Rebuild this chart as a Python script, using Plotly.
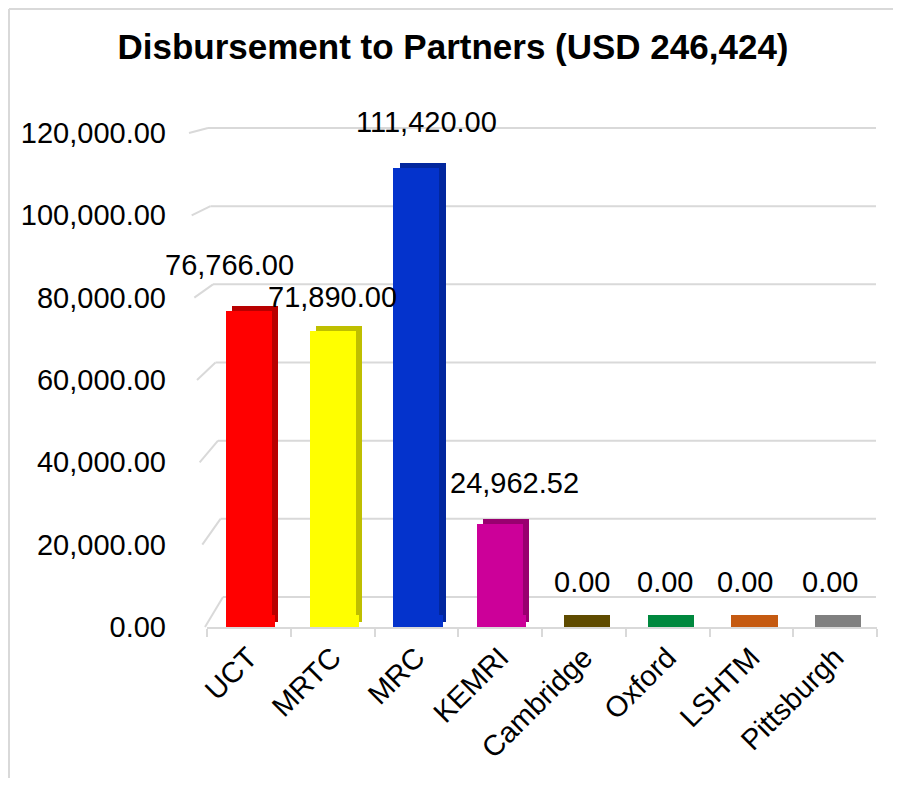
import plotly.graph_objects as go

# ---- data -------------------------------------------------------------
CATEGORIES = ["UCT", "MRTC", "MRC", "KEMRI", "Cambridge", "Oxford", "LSHTM", "Pittsburgh"]
VALUES = [76766.00, 71890.00, 111420.00, 24962.52, 0.00, 0.00, 0.00, 0.00]
Y_TICKS = [0, 20000, 40000, 60000, 80000, 100000, 120000]
TITLE = "Disbursement to Partners (USD 246,424)"

# ---- styles -----------------------------------------------------------
FRONT_COLORS = ["#FF0000", "#FFFF00", "#0433CC", "#CC0099",
                "#5F4B00", "#00883E", "#C55A11", "#808080"]
SIDE_COLORS = ["#B80000", "#BFBF00", "#02279E", "#99006F",
               "#3F3200", "#00612C", "#8F400C", "#5E5E5E"]
# pixel nudges of the value labels (dx, dy above bar top), as laid out in the source
LABEL_NUDGE = [(-19, 46), (0, 34), (10, 46), (14, 41),
               (-2, 45), (-3, 45), (-6, 45), (-5, 45)]
FONT = "Liberation Sans, Arial, sans-serif"
GRID = "#D9D9D9"

PAGE_W, PAGE_H = 901, 786
OFF = 8                                   # browser body margin
W, H = PAGE_W - 2 * OFF, PAGE_H - 2 * OFF
L, R, T, B = 207, 877, 133, 627          # plot area in page pixels
YMAX = 120000
BAR_W = 0.55
SIDE_SHIFT = 0.075                        # category units
SIDE_LIFT = 1200                          # data units
SLAB = 2800                               # visible floor slab for each bar


def px_to_paper_x(px):
    return (px - L) / (R - L)


def px_to_paper_y(py):
    return (B - py) / (B - T)


def value_to_px(v):
    return B - v / YMAX * (B - T)


fig = go.Figure()

# side / top faces (darker, shifted right and up)
fig.add_trace(go.Bar(
    x=CATEGORIES, y=VALUES, base=SIDE_LIFT, width=BAR_W,
    offset=-BAR_W / 2 + SIDE_SHIFT,
    marker=dict(color=SIDE_COLORS, line=dict(width=0)),
    hoverinfo="skip", showlegend=False,
))
# floor slab so that zero bars remain visible
fig.add_trace(go.Bar(
    x=CATEGORIES, y=[SLAB for _ in VALUES], width=BAR_W,
    offset=-BAR_W / 2 + SIDE_SHIFT / 2,
    marker=dict(color=FRONT_COLORS, line=dict(width=0)),
    hoverinfo="skip", showlegend=False,
))
# front faces
fig.add_trace(go.Bar(
    x=CATEGORIES, y=VALUES, width=BAR_W, offset=-BAR_W / 2,
    marker=dict(color=FRONT_COLORS, line=dict(width=0)),
    showlegend=False,
))

# data labels
for c, v, (dx, dy) in zip(CATEGORIES, VALUES, LABEL_NUDGE):
    fig.add_annotation(
        x=c, y=v, text=f"{v:,.2f}", showarrow=False,
        yanchor="middle", yshift=dy, xshift=dx,
        font=dict(family=FONT, size=29, color="#000000"),
    )

# 3-D style gridlines (back wall + slanted side-wall segment)
shapes = []
for t in Y_TICKS:
    back_px = 597 - t / YMAX * 469
    y_front = px_to_paper_y(value_to_px(t))
    y_back = px_to_paper_y(back_px)
    xs = px_to_paper_x(205 - 16 * t / YMAX)
    xe = px_to_paper_x(223 - 15 * t / YMAX)
    shapes.append(dict(type="line", xref="paper", yref="paper",
                       x0=xs, y0=y_front, x1=xe, y1=y_back,
                       line=dict(color=GRID, width=2), layer="below"))
    shapes.append(dict(type="line", xref="paper", yref="paper",
                       x0=xe, y0=y_back, x1=px_to_paper_x(876), y1=y_back,
                       line=dict(color=GRID, width=2), layer="below"))

# outer chart border (top and left visible)
bx0 = px_to_paper_x(OFF + 1)
by_top = px_to_paper_y(OFF + 1)
by_bot = px_to_paper_y(PAGE_H)
bx1 = px_to_paper_x(PAGE_W)
shapes.append(dict(type="line", xref="paper", yref="paper",
                   x0=bx0, y0=by_top, x1=bx1, y1=by_top,
                   line=dict(color=GRID, width=2)))
shapes.append(dict(type="line", xref="paper", yref="paper",
                   x0=bx0, y0=by_top, x1=bx0, y1=by_bot,
                   line=dict(color=GRID, width=2)))

fig.update_layout(
    width=W, height=H, autosize=False,
    margin=dict(l=L - OFF, r=W - (R - OFF), t=T - OFF, b=H - (B - OFF), pad=0),
    paper_bgcolor="#FFFFFF", plot_bgcolor="#FFFFFF",
    barmode="overlay", bargap=0,
    showlegend=False,
    shapes=shapes,
    title=dict(text=f"<b>{TITLE}</b>", x=(453 - OFF) / W, xanchor="center",
               y=1 - (47 - OFF) / H, yanchor="middle", yref="container",
               font=dict(family=FONT, size=35, color="#000000")),
    font=dict(family=FONT, size=29, color="#000000"),
)
fig.update_yaxes(
    range=[0, YMAX], tickvals=Y_TICKS, tickformat=",.2f",
    showgrid=False, zeroline=False, showline=False, ticks="",
    ticklabelstandoff=40,
    tickfont=dict(family=FONT, size=29, color="#000000"),
)
fig.update_xaxes(
    type="category", range=[-0.5, len(CATEGORIES) - 0.5],
    tickangle=-45, showgrid=False, zeroline=False,
    showline=True, linecolor=GRID, linewidth=2,
    ticks="outside", tickson="boundaries", ticklen=8,
    tickcolor=GRID, tickwidth=2,
    tickfont=dict(family=FONT, size=29, color="#000000"),
)

fig.write_html("out.html")
